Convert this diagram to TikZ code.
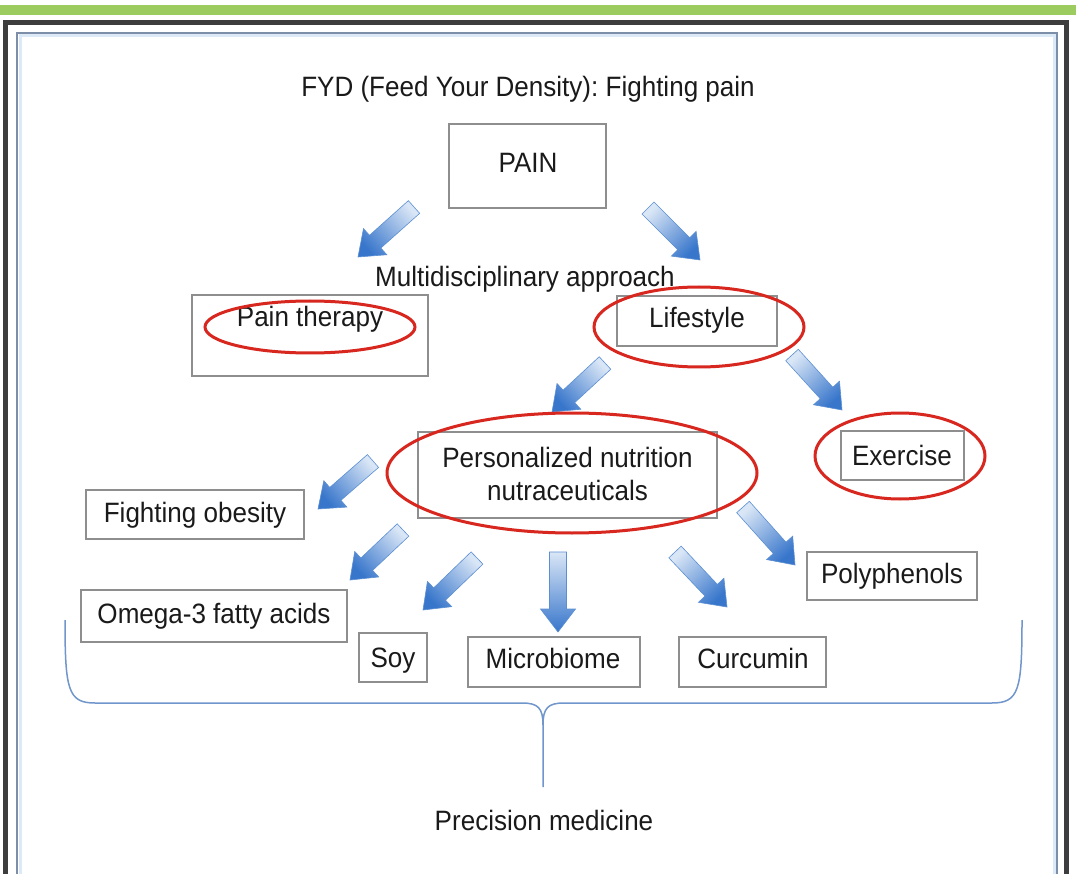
\documentclass[tikz,border=0pt]{standalone}
\usepackage{fontspec}
\setmainfont{Liberation Sans}[FakeStretch=0.93]
\usetikzlibrary{calc}
\definecolor{greenbar}{HTML}{9CCB5F}
\definecolor{framedark}{HTML}{3D3D3D}
\definecolor{frameblue}{HTML}{7D8FA8}
\definecolor{framelight}{HTML}{DCE9F6}
\definecolor{boxline}{HTML}{8E8E8E}
\definecolor{ringred}{HTML}{D7271F}
\definecolor{arrdark}{HTML}{3876CB}
\definecolor{arrlight}{HTML}{D9E6F6}
\definecolor{arrline}{HTML}{5B8FD2}
\definecolor{bracec}{HTML}{7096CC}
\definecolor{textc}{HTML}{1A1A1A}
\newcommand\blockarr[2]{%
  \pgfmathanglebetweenpoints{\pgfpointanchor{#1}{center}}{\pgfpointanchor{#2}{center}}%
  \pgfmathsetmacro\baang{\pgfmathresult-90}%
  \coordinate (hb) at ($(#2)!23pt!(#1)$);
  \path[blockarrow, shading angle=\baang]
    ($(#1)!8.5pt!90:(#2)$) -- ($(hb)!8.5pt!90:(#2)$) -- ($(hb)!17.5pt!90:(#2)$)
    -- (#2) -- ($(hb)!17.5pt!-90:(#2)$) -- ($(hb)!8.5pt!-90:(#2)$)
    -- ($(#1)!8.5pt!-90:(#2)$) -- cycle;
}
\begin{document}
\frenchspacing
\begin{tikzpicture}[x=1pt,y=-1pt,
  box/.style={draw=boxline, line width=1.3pt, fill=white, inner sep=0pt, rectangle},
  txt/.style={inner sep=0pt, text=textc, font=\fontsize{28}{33}\selectfont\frenchspacing, anchor=base},
  ring/.style={draw=ringred, line width=3pt},
  blockarrow/.style={draw=arrline, line width=0.6pt, top color=arrdark, bottom color=arrlight},
  bracel/.style={draw=bracec, line width=1.5pt}]
\useasboundingbox (0,0) rectangle (1076,874);
\fill[white] (0,0) rectangle (1076,874);
\begin{scope}
\clip (0,0) rectangle (1076,874);
\fill[greenbar] (0,5) rectangle (1076,15);
\draw[framedark, line width=5pt] (5.5,900) -- (5.5,22.5) -- (1066.5,22.5) -- (1066.5,900);
\draw[framelight, line width=3pt] (20,900) -- (20,36) -- (1054,36) -- (1054,900);
\draw[frameblue, line width=1.8pt] (17,900) -- (17,33) -- (1057,33) -- (1057,900);
\end{scope}

% boxes
\node[box, minimum width=157pt, minimum height=84pt] (painbox) at (527.5,166) {};
\node[box, minimum width=236pt, minimum height=81pt] (ptbox) at (310,335.5) {};
\node[box, minimum width=160pt, minimum height=50pt] (lifebox) at (697,321) {};
\node[box, minimum width=299pt, minimum height=86pt] (nutbox) at (567.5,475) {};
\node[box, minimum width=123pt, minimum height=49pt] (exbox) at (902.5,455.5) {};
\node[box, minimum width=218pt, minimum height=49pt] (obbox) at (195,514.5) {};
\node[box, minimum width=170pt, minimum height=48pt] (polybox) at (892,576) {};
\node[box, minimum width=266pt, minimum height=52pt] (omegabox) at (214,616) {};
\node[box, minimum width=68pt, minimum height=49pt] (soybox) at (393,657.5) {};
\node[box, minimum width=172pt, minimum height=50pt] (microbox) at (554,662) {};
\node[box, minimum width=147pt, minimum height=50pt] (curbox) at (752.5,662) {};

% arrow end points
\coordinate (t1) at (414,207);  \coordinate (h1) at (358,257);
\coordinate (t2) at (648,208);  \coordinate (h2) at (700,260);
\coordinate (t3) at (605,363);  \coordinate (h3) at (552,412);
\coordinate (t4) at (792,355);  \coordinate (h4) at (842,410);
\coordinate (t5) at (373,461);  \coordinate (h5) at (318,509);
\coordinate (t6) at (403,530);  \coordinate (h6) at (350,580);
\coordinate (t7) at (477,558);  \coordinate (h7) at (423,610);
\coordinate (t8) at (558,552);  \coordinate (h8) at (558,632);
\coordinate (t9) at (675,552);  \coordinate (h9) at (727,607);
\coordinate (t10) at (743,507); \coordinate (h10) at (795,565);
\blockarr{t1}{h1}
\blockarr{t2}{h2}
\blockarr{t3}{h3}
\blockarr{t4}{h4}
\blockarr{t5}{h5}
\blockarr{t6}{h6}
\blockarr{t7}{h7}
\blockarr{t8}{h8}
\blockarr{t9}{h9}
\blockarr{t10}{h10}

% texts
\node[txt] (title) at (528,97) {FYD (Feed Your Density): Fighting pain};
\node[txt] (pain) at (528,173) {PAIN};
\node[txt] (multi) at (525,287) {Multidisciplinary approach};
\node[txt] (pt) at (310,327) {Pain therapy};
\node[txt] (life) at (697,328) {Lifestyle};
\node[txt, align=center] (nut) at (567.5,500) {Personalized nutrition\\nutraceuticals};
\node[txt] (ex) at (902,465) {Exercise};
\node[txt] (ob) at (195,522) {Fighting obesity};
\node[txt] (poly) at (892,583) {Polyphenols};
\node[txt] (omega) at (214,623) {Omega-3 fatty acids};
\node[txt] (soy) at (393,667) {Soy};
\node[txt] (micro) at (553,668) {Microbiome};
\node[txt] (cur) at (753,668) {Curcumin};
\node[txt] (prec) at (544,830) {Precision medicine};

% red rings
\draw[ring] (310,327) ellipse [x radius=105pt, y radius=26pt];
\draw[ring] (699,327) ellipse [x radius=105pt, y radius=40pt];
\draw[ring] (572,473) ellipse [x radius=185pt, y radius=60pt];
\draw[ring] (900,456) ellipse [x radius=85pt, y radius=43pt];

% brace
\coordinate (bl) at (65,620);
\coordinate (br) at (1022,620);
\coordinate (bm) at (543,725);
\coordinate (bt) at (543,787);
\draw[bracel] (bl) .. controls (65,690) and (68,703) .. (95,703) -- (522,703)
  .. controls (538,703) and (543,708) .. (bm) -- (bt);
\draw[bracel] (br) .. controls (1022,690) and (1019,703) .. (992,703) -- (564,703)
  .. controls (548,703) and (543,708) .. (bm);
\end{tikzpicture}
\end{document}
